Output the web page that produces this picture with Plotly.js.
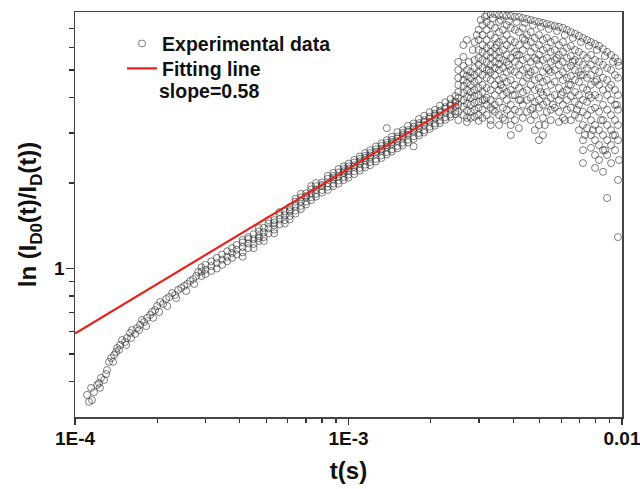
<!DOCTYPE html>
<html>
<head>
<meta charset="utf-8">
<script src="https://cdn.plot.ly/plotly-3.0.1.min.js"></script>
<style>html,body{margin:0;padding:0;background:#fff;}#chart{width:640px;height:489px;}</style>
</head>
<body>
<div id="chart"></div>
<script>
// ---- Data ----
// early-time points (below the fitting line)
const lowT = [1.107e-4, 1.125e-4, 1.145e-4, 1.174e-4, 1.205e-4, 1.224e-4, 1.245e-4, 1.277e-4, 1.309e-4, 1.332e-4, 1.355e-4, 1.390e-4, 1.413e-4, 1.425e-4, 1.462e-4, 1.486e-4, 1.524e-4, 1.549e-4, 1.589e-4, 1.617e-4, 1.659e-4, 1.687e-4, 1.729e-4, 1.759e-4, 1.790e-4, 1.835e-4, 1.882e-4, 1.914e-4, 1.963e-4, 1.997e-4, 2.047e-4, 2.100e-4, 2.154e-4, 2.209e-4, 2.266e-4, 2.323e-4, 2.384e-4, 2.445e-4, 2.508e-4, 2.572e-4, 2.637e-4, 2.705e-4, 2.774e-4, 2.821e-4,
  1.154e-4, 1.234e-4, 1.299e-4, 1.378e-4, 1.449e-4, 1.538e-4, 1.604e-4, 1.715e-4, 1.820e-4, 1.931e-4, 2.031e-4, 2.173e-4, 2.344e-4, 2.550e-4, 2.728e-4];
const lowY = [0.359, 0.339, 0.380, 0.367, 0.389, 0.395, 0.412, 0.405, 0.439, 0.469, 0.484, 0.496, 0.508, 0.525, 0.538, 0.560, 0.551, 0.569, 0.593, 0.607, 0.588, 0.617, 0.633, 0.659, 0.648, 0.670, 0.686, 0.703, 0.714, 0.738, 0.762, 0.750, 0.781, 0.794, 0.820, 0.807, 0.840, 0.854, 0.868, 0.882, 0.904, 0.918, 0.941, 0.972,
  0.344, 0.380, 0.425, 0.469, 0.517, 0.538, 0.569, 0.607, 0.627, 0.670, 0.703, 0.738, 0.787, 0.833, 0.882];

// middle band (following the power law), one t per column
const midT = [2.9e-4, 3.0e-4, 3.15e-4, 3.3e-4, 3.45e-4, 3.6e-4, 3.75e-4, 3.9e-4, 4.1e-4, 4.3e-4, 4.5e-4, 4.7e-4, 4.9e-4, 5.1e-4, 5.35e-4, 5.6e-4, 5.85e-4, 6.1e-4, 6.4e-4, 6.7e-4, 7.0e-4, 7.3e-4, 7.6e-4, 8.0e-4, 8.4e-4, 8.8e-4, 9.2e-4, 9.6e-4, 1.0e-3, 1.05e-3, 1.1e-3, 1.15e-3, 1.2e-3, 1.26e-3, 1.32e-3, 1.38e-3, 1.44e-3, 1.51e-3, 1.58e-3, 1.65e-3, 1.73e-3, 1.81e-3, 1.89e-3, 1.98e-3, 2.07e-3, 2.16e-3, 2.26e-3, 2.36e-3, 2.46e-3];
const midY = [
  [0.94, 0.975, 1.01], [0.955, 0.99, 1.03], [0.98, 1.02, 1.06], [1.0, 1.045, 1.09],
  [1.03, 1.075, 1.12], [1.06, 1.10, 1.15], [1.09, 1.135, 1.18], [1.12, 1.165, 1.21],
  [1.10, 1.14, 1.19, 1.235, 1.26], [1.18, 1.225, 1.27, 1.29], [1.18, 1.22, 1.27, 1.32], [1.25, 1.28, 1.30, 1.35, 1.39],
  [1.25, 1.29, 1.34, 1.39], [1.33, 1.385, 1.44, 1.48], [1.33, 1.37, 1.42, 1.45, 1.48], [1.43, 1.49, 1.54, 1.58],
  [1.44, 1.48, 1.54, 1.59], [1.49, 1.53, 1.59, 1.61, 1.645], [1.56, 1.60, 1.66, 1.72, 1.76], [1.62, 1.66, 1.72, 1.78, 1.83],
  [1.68, 1.72, 1.78, 1.80, 1.84], [1.74, 1.78, 1.84, 1.90, 1.95], [1.79, 1.83, 1.89, 1.95, 2.00], [1.85, 1.89, 1.95, 1.97, 2.01],
  [1.89, 1.94, 2.00, 2.07, 2.12], [1.95, 1.99, 2.06, 2.09, 2.12, 2.17], [1.99, 2.04, 2.11, 2.18, 2.24], [2.05, 2.10, 2.17, 2.20, 2.24, 2.29],
  [2.09, 2.14, 2.21, 2.25, 2.29, 2.34], [2.15, 2.20, 2.28, 2.31, 2.36, 2.41], [2.21, 2.26, 2.34, 2.38, 2.43, 2.48], [2.27, 2.32, 2.40, 2.45, 2.49, 2.55],
  [2.31, 2.37, 2.46, 2.50, 2.55, 2.61], [2.38, 2.43, 2.53, 2.58, 2.63, 2.69], [2.45, 2.50, 2.60, 2.64, 2.70, 2.76], [2.52, 2.57, 2.67, 2.72, 2.77, 2.83, 3.12],
  [2.58, 2.63, 2.74, 2.79, 2.84, 2.91], [2.65, 2.70, 2.81, 2.87, 2.92, 3.02], [2.71, 2.77, 2.89, 2.95, 3.00, 3.07], [2.78, 2.84, 2.96, 3.03, 3.07, 3.18],
  [2.69, 2.86, 2.92, 3.04, 3.11, 3.16, 3.24], [2.94, 3.00, 3.12, 3.19, 3.25, 3.36], [3.01, 3.07, 3.20, 3.28, 3.33, 3.45], [3.10, 3.16, 3.29, 3.37, 3.42, 3.55],
  [3.18, 3.24, 3.38, 3.46, 3.51, 3.62], [3.25, 3.32, 3.46, 3.55, 3.60, 3.74], [3.34, 3.41, 3.55, 3.65, 3.70, 3.85], [3.42, 3.49, 3.64, 3.74, 3.79, 3.95],
  [3.50, 3.58, 3.73, 3.83, 3.88, 4.05]
];

// late-time scattered cloud, one t per column
const cloudT = [2.52e-3, 2.63e-3, 2.71e-3, 2.80e-3, 2.89e-3, 2.99e-3, 3.09e-3, 3.20e-3, 3.31e-3, 3.43e-3, 3.55e-3, 3.67e-3, 3.79e-3, 3.92e-3, 4.06e-3, 4.20e-3, 4.34e-3, 4.49e-3, 4.64e-3, 4.80e-3, 4.97e-3, 5.14e-3, 5.31e-3, 5.49e-3, 5.68e-3, 5.88e-3, 6.08e-3, 6.29e-3, 6.50e-3, 6.73e-3, 6.96e-3, 7.20e-3, 7.45e-3, 7.70e-3, 7.97e-3, 8.24e-3, 8.52e-3, 8.82e-3, 9.12e-3, 9.43e-3, 9.67e-3];
const cloudY = [
  [5.34, 5.00, 4.69, 4.43, 4.18, 3.99, 3.77, 3.56, 3.33],
  [6.12, 5.56, 5.17, 4.84, 4.61, 4.39, 4.15, 3.92, 3.71, 3.47],
  [6.38, 5.00, 4.76, 4.50, 4.25, 4.02, 3.80, 3.59, 3.39, 3.28],
  [4.92, 4.69, 4.43, 4.18, 3.99, 3.77, 3.56, 3.39],
  [6.27, 5.42, 5.08, 4.80, 4.54, 4.25, 4.05, 3.83, 3.62, 3.42],
  [6.92, 6.38, 5.88, 5.51, 5.21, 4.92, 4.61, 4.32, 4.08, 3.86, 3.68, 3.47, 3.31],
  [7.20, 6.64, 6.12, 5.79, 5.42, 5.08, 4.80, 4.43, 4.18, 3.92, 3.62, 3.39],
  [7.81, 7.38, 6.92, 6.38, 5.98, 5.65, 5.34, 5.00, 4.69, 4.32, 3.99, 3.77, 3.47],
  [7.87, 7.20, 6.64, 6.12, 5.79, 5.51, 5.21, 4.92, 4.61, 4.25, 3.92, 3.68, 3.33, 3.20],
  [7.87, 7.03, 6.48, 5.98, 5.65, 5.34, 5.08, 4.80, 4.43, 4.08, 3.77, 3.56],
  [7.81, 7.38, 6.80, 6.27, 5.79, 5.51, 5.25, 5.00, 4.61, 4.25, 3.86, 3.47, 3.20],
  [7.81, 6.92, 6.38, 5.88, 5.42, 5.08, 4.69, 4.32, 4.08, 3.68, 3.39],
  [7.75, 7.20, 6.64, 6.12, 5.65, 5.34, 4.92, 4.54, 4.18, 3.92, 3.62],
  [7.75, 7.03, 6.38, 5.98, 5.51, 5.00, 4.61, 4.25, 3.77, 3.47, 3.20, 2.95],
  [7.69, 6.92, 6.27, 5.79, 5.34, 4.92, 4.43, 4.08, 3.62, 3.33],
  [7.69, 6.80, 6.12, 5.65, 5.21, 4.80, 4.32, 3.92, 3.56, 3.12],
  [7.62, 7.03, 6.48, 5.88, 5.42, 5.00, 4.54, 4.18, 3.77, 3.39],
  [7.56, 6.64, 6.12, 5.51, 5.08, 4.69, 4.25, 3.92, 3.56],
  [7.50, 6.80, 6.27, 5.79, 5.34, 4.92, 4.43, 3.99, 3.62, 3.33],
  [7.44, 6.48, 5.98, 5.51, 5.00, 4.61, 4.25, 3.86, 3.47, 3.07],
  [7.38, 6.64, 6.12, 5.65, 5.21, 4.69, 4.32, 3.92, 3.68, 3.20, 2.83],
  [7.32, 6.38, 5.88, 5.42, 4.92, 4.54, 4.08, 3.77, 3.39, 2.95],
  [7.26, 6.48, 5.98, 5.51, 5.08, 4.61, 4.18, 3.86, 3.56],
  [7.20, 6.27, 5.79, 5.34, 4.92, 4.43, 3.99, 3.62, 3.33],
  [7.14, 6.38, 5.88, 5.42, 5.00, 4.54, 4.08, 3.68],
  [7.09, 6.12, 5.65, 5.21, 4.80, 4.32, 3.92, 3.56, 3.28],
  [7.03, 6.27, 5.79, 5.34, 4.92, 4.61, 4.18, 3.77, 3.39],
  [6.92, 5.98, 5.51, 5.08, 4.69, 4.25, 3.92, 3.62],
  [6.80, 6.08, 5.60, 5.17, 4.76, 4.43, 4.05, 3.68, 3.33],
  [6.70, 5.88, 5.42, 5.00, 4.61, 4.18, 3.86, 3.47],
  [6.59, 5.79, 5.34, 4.92, 4.54, 4.08, 3.77, 3.39, 3.07],
  [6.48, 5.65, 5.21, 4.80, 4.32, 3.92, 3.56, 3.20, 2.83, 2.61, 2.35],
  [6.38, 5.51, 5.08, 4.69, 4.25, 3.86, 3.47, 3.12],
  [6.27, 5.65, 5.21, 4.80, 4.43, 3.99, 3.62, 3.33, 2.95, 2.66],
  [6.17, 5.42, 5.00, 4.54, 4.08, 3.68, 3.20, 2.83, 2.51, 2.26],
  [6.08, 5.34, 4.92, 4.43, 3.99, 3.56, 3.07, 2.72, 2.41],
  [5.93, 5.21, 4.69, 4.25, 3.77, 3.33, 2.95, 2.61, 2.19],
  [5.79, 5.08, 4.61, 4.08, 3.62, 3.20, 2.83, 2.51, 1.77],
  [5.65, 5.00, 4.43, 3.92, 3.47, 3.07, 2.72, 2.35],
  [5.51, 4.80, 4.25, 3.77, 3.33, 2.95, 2.61],
  [5.34, 4.69, 4.08, 3.62, 3.20, 2.83, 2.05, 1.29]
];

// extra irregular points inside the late-time cloud
const cloud2T = [2.752e-3, 2.846e-3, 2.943e-3, 3.044e-3, 3.149e-3, 3.257e-3, 3.368e-3, 3.484e-3, 3.604e-3, 3.728e-3, 3.855e-3, 3.988e-3, 4.124e-3, 4.266e-3, 4.413e-3, 4.564e-3, 4.721e-3, 4.883e-3, 5.050e-3, 5.224e-3, 5.403e-3, 5.589e-3, 5.780e-3, 5.978e-3, 6.183e-3, 6.395e-3, 6.614e-3, 6.841e-3, 7.076e-3, 7.318e-3, 7.569e-3, 7.829e-3, 8.098e-3, 8.377e-3, 8.664e-3, 8.961e-3, 9.268e-3, 9.587e-3, 9.750e-3];
const cloud2Y = [5.34, 5.88, 6.64, 7.50, 3.92, 5.00, 3.62, 6.12, 4.43, 3.33, 5.21, 4.08, 5.65, 3.92, 6.38, 4.80, 3.68, 5.42, 4.18, 3.20, 5.00, 3.77, 5.51, 4.08, 3.33, 4.43, 5.34, 3.62, 4.80, 2.95, 4.08, 3.07, 4.61, 3.33, 2.61, 4.32, 2.95, 3.77, 2.41];

// second row of the dense upper arc
const arcT = [3.15e-3, 3.37e-3, 3.60e-3, 3.86e-3, 4.12e-3, 4.41e-3, 4.72e-3, 5.05e-3, 5.40e-3, 5.78e-3, 6.18e-3, 6.61e-3, 7.08e-3, 7.57e-3, 8.10e-3, 8.66e-3, 9.27e-3, 9.75e-3];
const arcY = [7.69, 7.62, 7.50, 7.44, 7.38, 7.32, 7.20, 7.09, 6.97, 6.86, 6.64, 6.48, 6.27, 6.08, 5.88, 5.60, 5.34, 5.17];

// fitting line (slope 0.58 in log-log)
const fitT = [1e-4, 2.5e-3];
const fitY = [0.59, 3.82];

// axis ticks
const xTickVals = [1e-4, 1e-3, 1e-2];
const xTickText = ['1E-4', '1E-3', '0.01'];
const xMinorVals = [2e-4, 3e-4, 4e-4, 5e-4, 6e-4, 7e-4, 8e-4, 9e-4, 2e-3, 3e-3, 4e-3, 5e-3, 6e-3, 7e-3, 8e-3, 9e-3];
const yTickVals = [1];
const yTickText = ['1'];
const yMinorVals = [0.4, 0.5, 0.6, 0.7, 0.8, 0.9, 2, 3, 4, 5, 6, 7];
const xRange = [1e-4, 1e-2];
const yRange = [0.3, 8];

// ---- assemble experimental series ----
const expT = [], expY = [];
lowT.forEach((t, i) => { expT.push(t); expY.push(lowY[i]); });
midT.forEach((t, i) => midY[i].forEach(v => { expT.push(t); expY.push(v); }));
cloudT.forEach((t, i) => cloudY[i].forEach(v => { expT.push(t); expY.push(v); }));
cloud2T.forEach((t, i) => { expT.push(t); expY.push(cloud2Y[i]); });
arcT.forEach((t, i) => { expT.push(t); expY.push(arcY[i]); });

const FONT = 'Liberation Sans, Arial, Helvetica, sans-serif';
const LEGFONT = { family: FONT, size: 19.5, color: '#111', weight: 'bold' };

const traces = [
  {
    x: expT, y: expY, type: 'scatter', mode: 'markers', name: 'Experimental data',
    legend: 'legend',
    marker: { symbol: 'circle-open', size: 7, color: 'rgba(50,50,50,0.62)', line: { width: 1 } },
    cliponaxis: true
  },
  {
    // drawn on the overlay axes (identical ranges) which carry the long major ticks
    x: fitT, y: fitY, type: 'scatter', mode: 'lines', name: 'Fitting line',
    xaxis: 'x2', yaxis: 'y2', legend: 'legend2',
    line: { color: '#e8231e', width: 2.2 }
  }
];

const axisCommon = {
  type: 'log', showgrid: false, zeroline: false,
  showline: true, linecolor: '#444', linewidth: 1.5, mirror: true,
  ticks: 'outside', ticklen: 4, tickwidth: 1.3, tickcolor: '#333',
  tickmode: 'array', autorange: false, ticklabeloverflow: 'allow',
  tickfont: { family: FONT, size: 19, color: '#111', weight: 'bold' }
};
const majorCommon = {
  type: 'log', showgrid: false, zeroline: false, showline: false,
  ticks: 'outside', ticklen: 7, tickwidth: 1.5, tickcolor: '#333',
  tickmode: 'array', showticklabels: false, autorange: false
};

const layout = {
  width: 640, height: 489,
  margin: { l: 75, r: 18, t: 12, b: 72 },
  paper_bgcolor: '#fff', plot_bgcolor: 'rgba(0,0,0,0)',
  showlegend: true,
  legend: {
    x: 0.086, y: 0.9696, xanchor: 'left', yanchor: 'top',
    bgcolor: 'rgba(0,0,0,0)', borderwidth: 0, font: LEGFONT, itemwidth: 30
  },
  legend2: {
    x: 0.086, y: 0.908, xanchor: 'left', yanchor: 'top',
    bgcolor: 'rgba(0,0,0,0)', borderwidth: 0, font: LEGFONT, itemwidth: 30
  },
  xaxis: Object.assign({}, axisCommon, {
    range: xRange.map(Math.log10),
    tickvals: xTickVals.concat(xMinorVals),
    ticktext: xTickText.concat(xMinorVals.map(() => '')),
    title: { text: 't(s)', font: { family: FONT, size: 24, color: '#111', weight: 'bold' }, standoff: 14 }
  }),
  yaxis: Object.assign({}, axisCommon, {
    range: yRange.map(Math.log10),
    tickvals: yTickVals.concat(yMinorVals),
    ticktext: yTickText.concat(yMinorVals.map(() => '')),
    ticklen: 5,
    title: { text: 'ln (I<sub>D0</sub>(t)/I<sub>D</sub>(t))', font: { family: FONT, size: 24, color: '#111', weight: 'bold' }, standoff: 10 }
  }),
  // overlay axes carrying only the longer major tick marks
  xaxis2: Object.assign({}, majorCommon, {
    overlaying: 'x', anchor: 'y2', side: 'bottom',
    range: xRange.map(Math.log10), tickvals: xTickVals
  }),
  yaxis2: Object.assign({}, majorCommon, {
    overlaying: 'y', anchor: 'x2', side: 'left',
    range: yRange.map(Math.log10), tickvals: yTickVals, ticklen: 8
  }),
  annotations: [
    {
      text: 'slope=0.58', xref: 'paper', yref: 'paper', x: 0.15, y: 0.806,
      xanchor: 'left', yanchor: 'middle', showarrow: false,
      font: LEGFONT
    }
  ]
};

Plotly.newPlot('chart', traces, layout, { displayModeBar: false, staticPlot: true });
</script>
</body>
</html>
